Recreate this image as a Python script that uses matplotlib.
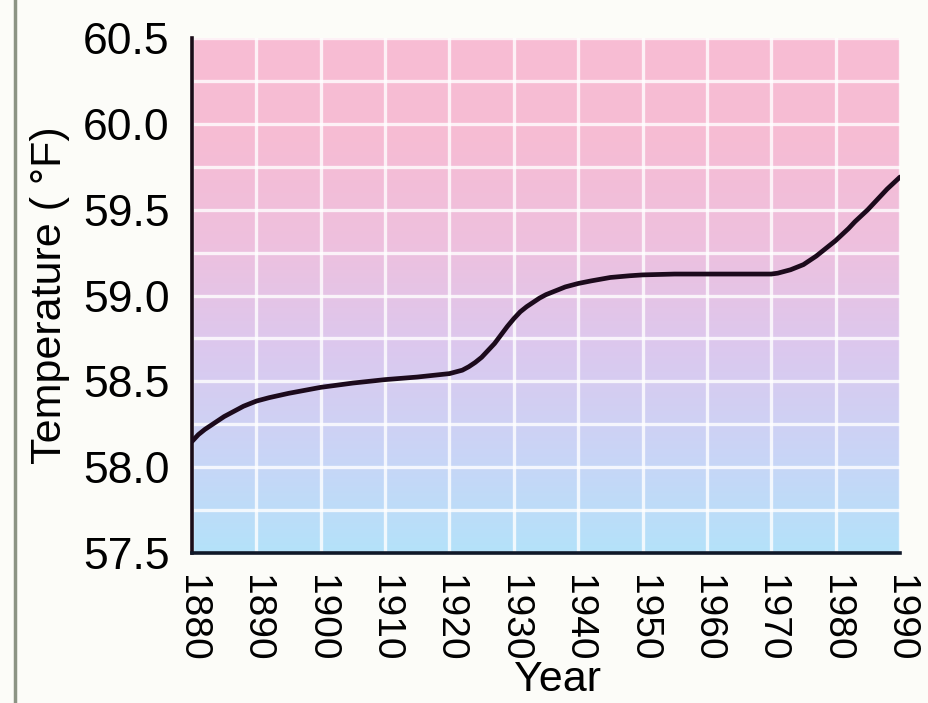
import numpy as np
import matplotlib.pyplot as plt
from matplotlib.colors import LinearSegmentedColormap
from matplotlib.lines import Line2D

# values
years = [1880, 1881, 1882, 1883, 1884, 1885, 1886, 1887, 1888, 1889, 1890,
         1892, 1895, 1900, 1905, 1910, 1915, 1920,
         1921, 1922, 1923, 1924, 1925, 1926, 1927, 1928, 1929, 1930,
         1931, 1932, 1933, 1934, 1935, 1936, 1937, 1938, 1940, 1942,
         1945, 1948, 1950, 1955, 1960, 1965, 1970,
         1971, 1972, 1973, 1974, 1975, 1976, 1977, 1978, 1979, 1980,
         1981, 1982, 1983, 1984, 1985, 1986, 1987, 1988, 1989, 1990]
temps = [58.15, 58.19, 58.22, 58.245, 58.27, 58.295, 58.315, 58.335, 58.355, 58.37, 58.385,
         58.405, 58.43, 58.465, 58.49, 58.51, 58.525, 58.545,
         58.555, 58.565, 58.585, 58.61, 58.64, 58.68, 58.72, 58.77, 58.82, 58.865,
         58.905, 58.935, 58.96, 58.985, 59.005, 59.02, 59.035, 59.05, 59.07, 59.085,
         59.105, 59.115, 59.12, 59.125, 59.125, 59.125, 59.125,
         59.13, 59.14, 59.15, 59.165, 59.18, 59.205, 59.23, 59.26, 59.29, 59.32,
         59.355, 59.39, 59.43, 59.465, 59.50, 59.54, 59.58, 59.62, 59.655, 59.69]
xticks = list(range(1880, 1991, 10))
yticks = [57.5, 58.0, 58.5, 59.0, 59.5, 60.0, 60.5]

plt.rcParams['font.family'] = ['Liberation Sans', 'DejaVu Sans']

fig = plt.figure(figsize=(9.29, 7.03), dpi=100, facecolor='#fcfcf8')
ax = fig.add_axes([192/929, 1 - 553/703, 708/929, 515/703])

# pink-to-blue background
cmap = LinearSegmentedColormap.from_list(
    'bg', ['#b4e2fa', '#cad4f6', '#dcc8ee', '#eec0de', '#f6bcd4', '#f8bdd3'])
grad = np.linspace(0, 1, 256).reshape(-1, 1)
ax.imshow(grad, cmap=cmap, origin='lower', aspect='auto',
          extent=[1880, 1990, 57.5, 60.5], zorder=0)

ax.plot(years, temps, color='#1c0a1c', lw=3.4, zorder=3,
        solid_capstyle='round', solid_joinstyle='round')

ax.set_xlim(1880, 1990)
ax.set_ylim(57.5, 60.5)
ax.set_xticks(xticks)
ax.set_xticklabels([str(y) for y in xticks], rotation=270, fontsize=28)
ax.set_yticks(yticks)
ax.set_yticklabels([f'{v:.1f}' for v in yticks], fontsize=32)
ax.set_yticks(np.arange(57.75, 60.5, 0.5), minor=True)
ax.tick_params(axis='both', which='both', length=0)
ax.tick_params(axis='y', pad=16)
ax.tick_params(axis='x', pad=16)

ax.set_axisbelow(True)
ax.grid(True, which='both', color='white', lw=2.4, alpha=0.8)

for s in ['top', 'right']:
    ax.spines[s].set_visible(False)
ax.spines['left'].set_color('#1a0c18')
ax.spines['bottom'].set_color('#101828')
ax.spines['left'].set_linewidth(2.6)
ax.spines['bottom'].set_linewidth(2.6)

ax.set_xlabel('Year', fontsize=31)
ax.xaxis.set_label_coords(0.516, -0.207)
ax.set_ylabel('Temperature ( °F)', fontsize=31)
ax.yaxis.set_label_coords(-0.172, 0.5)

# frame line at the left edge of the picture
fig.add_artist(Line2D([15/929, 15/929], [0, 1], color='#8c9484', lw=2.5))

fig.savefig('out.png', dpi=100, facecolor=fig.get_facecolor())
